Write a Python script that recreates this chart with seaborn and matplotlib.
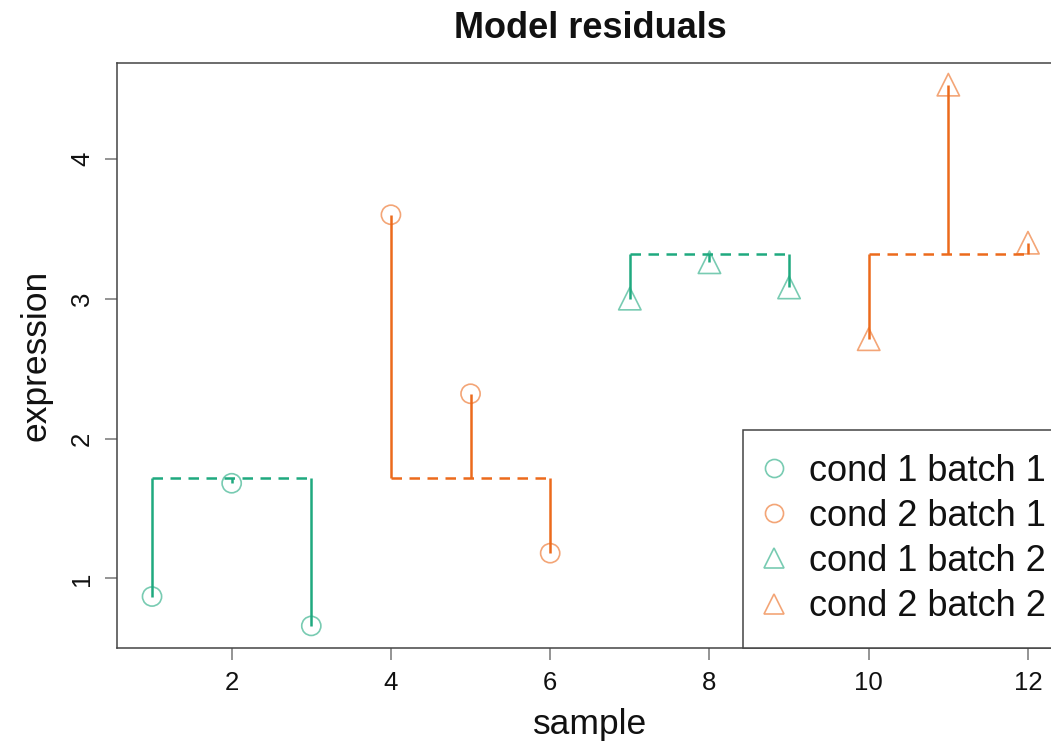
import matplotlib
matplotlib.use('Agg')
import matplotlib.pyplot as plt
from matplotlib.lines import Line2D
import pandas as pd
import seaborn as sns

sns.set_style('ticks')
plt.rcParams['font.family'] = ['Liberation Sans', 'DejaVu Sans']
plt.rcParams['text.color'] = 'black'

# values
samples = [1, 2, 3, 4, 5, 6, 7, 8, 9, 10, 11, 12]
expression = [0.87, 1.68, 0.66, 3.60, 2.32, 1.18, 3.00, 3.26, 3.08, 2.71, 4.53, 3.40]
fitted = [1.72, 1.72, 1.72, 1.72, 1.72, 1.72, 3.32, 3.32, 3.32, 3.32, 3.32, 3.32]
cond = [1, 1, 1, 2, 2, 2, 1, 1, 1, 2, 2, 2]
batch = [1, 1, 1, 1, 1, 1, 2, 2, 2, 2, 2, 2]

cond_colors = {1: '#1FA97F', 2: '#EC6A1C'}
batch_markers = {1: 'o', 2: '^'}
batch_sizes = {1: 190, 2: 260}

df = pd.DataFrame({'sample': samples, 'expression': expression, 'fitted': fitted,
                   'cond': cond, 'batch': batch})

fig = plt.figure(figsize=(10.51, 7.43), dpi=100)
ax = fig.add_axes([117 / 1051, 95 / 743, 946 / 1051, 585 / 743])

# residual segments and fitted lines
for (c, b), sub in df.groupby(['cond', 'batch']):
    col = cond_colors[c]
    ax.vlines(sub['sample'], sub['fitted'], sub['expression'], color=col, lw=1.8, zorder=2)
    ax.hlines(sub['fitted'].iloc[0], sub['sample'].min(), sub['sample'].max(), color=col,
              lw=1.8, linestyles=(0, (4.2, 3.0)), zorder=2)
    sns.scatterplot(x=sub['sample'], y=sub['expression'], marker=batch_markers[b],
                    s=batch_sizes[b], facecolors='none', edgecolor=col, linewidth=1.2,
                    alpha=0.6, ax=ax, zorder=3, legend=False)

ax.set_xlim(0.56, 12.44)
ax.set_ylim(0.502, 4.685)
ax.set_xticks([2, 4, 6, 8, 10, 12])
ax.set_yticks([1, 2, 3, 4])

for sp in ax.spines.values():
    sp.set_color('#444444')
    sp.set_linewidth(1.1)

ax.tick_params(axis='both', direction='out', length=8.6, width=1.1, color='#777777',
               labelsize=18.5, labelcolor='#111111')
ax.tick_params(axis='x', pad=8)
ax.tick_params(axis='y', pad=8, labelrotation=90)
for lab in ax.get_yticklabels():
    lab.set_verticalalignment('center')

ax.set_xlabel('sample', fontsize=25.5, color='#111111')
ax.set_ylabel('expression', fontsize=25.5, color='#111111')
ax.xaxis.set_label_coords((590 - 117) / 946, -60 / 585)
ax.yaxis.set_label_coords((53 - 117) / 946, 0.5)
ax.set_title('Model residuals', fontsize=26, fontweight='bold', pad=18, color='#111111')

handles = []
labels = []
for b in [1, 2]:
    for c in [1, 2]:
        handles.append(Line2D([], [], linestyle='none', marker=batch_markers[b],
                              markersize=13 if b == 1 else 15, markerfacecolor='none',
                              markeredgecolor=cond_colors[c], markeredgewidth=1.2, alpha=0.6))
        labels.append(f'cond {c} batch {b}')

leg = ax.legend(handles, labels, loc='lower right', bbox_to_anchor=((1070 - 117) / 946, 0),
                borderaxespad=0, fontsize=26, frameon=True, fancybox=False,
                handlelength=0.4, handletextpad=0.78, labelspacing=0.28, borderpad=0.66)
leg.get_frame().set_edgecolor('#444444')
leg.get_frame().set_linewidth(1.1)
leg.get_frame().set_alpha(1)
for t in leg.get_texts():
    t.set_color('#111111')

fig.savefig('out.png', dpi=100)
